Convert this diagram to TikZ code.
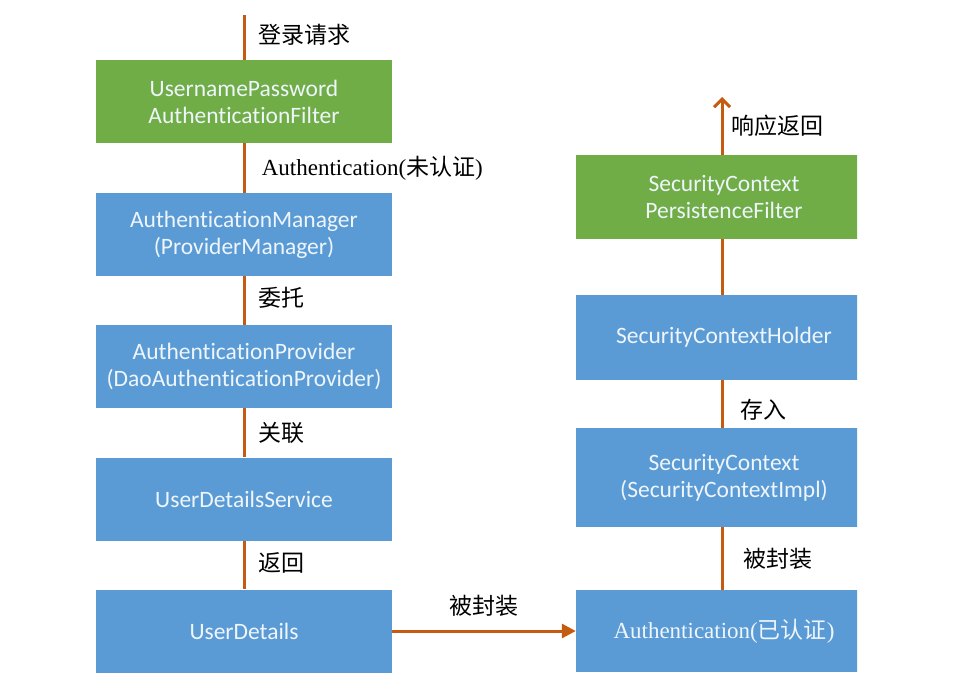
\documentclass[tikz,border=0pt]{standalone}
\usepackage{fontspec}
\setmainfont{Liberation Serif}
\newfontfamily\cjkfont{Noto Sans CJK SC}
\newfontfamily\boxfont{Carlito}[Ligatures=NoCommon]
\usetikzlibrary{arrows.meta,positioning}
\definecolor{FlowGreen}{HTML}{70AD47}
\definecolor{FlowBlue}{HTML}{5B9BD5}
\definecolor{FlowLine}{HTML}{C55A11}
\definecolor{BoxText}{HTML}{EEF5FB}

\begin{document}
\begin{tikzpicture}[
    x=1pt, y=-1pt,
    stage/.style={
      fill=#1,
      minimum width=296pt,
      minimum height=83pt,
      inner sep=0pt,
      align=center,
      text=BoxText,
      font=\boxfont\fontsize{23.5}{27}\selectfont
    },
    link/.style={draw=FlowLine, line width=3pt},
    note/.style={anchor=west, font=\cjkfont\fontsize{23}{26}\selectfont}
  ]
  \useasboundingbox (0,0) rectangle (965,673);

  % Left column
  \node[stage=FlowGreen] (filter)   at (244,101.5) {UsernamePassword\\AuthenticationFilter};
  \node[stage=FlowBlue]  (manager)  at (244,234.5) {AuthenticationManager\\(ProviderManager)};
  \node[stage=FlowBlue]  (provider) at (244,366.5) {AuthenticationProvider\\(DaoAuthenticationProvider)};
  \node[stage=FlowBlue]  (service)  at (244,499)   {UserDetailsService};
  \node[stage=FlowBlue]  (details)  at (244,631)   {UserDetails};

  % Right column (cut off at the right edge)
  \begin{scope}
    \clip (0,0) rectangle (857,673);
    \node[stage=FlowGreen, minimum height=84pt] (persist) at (724,197)   {SecurityContext\\PersistenceFilter};
    \node[stage=FlowBlue, minimum height=85pt]  (holder)  at (724,337.5) {SecurityContextHolder};
    \node[stage=FlowBlue, minimum height=99pt]  (context) at (724,477.5) {SecurityContext\\(SecurityContextImpl)};
    \node[stage=FlowBlue, minimum height=82pt,
          font=\rmfamily\fontsize{23}{26}\selectfont] (authdone) at (724,631)
      {Authentication({\cjkfont 已认证})};
  \end{scope}

  \coordinate (request) at (244,15);
  \coordinate (response) at (722,97);

  % Connectors
  \draw[link] (request) -- node[note, xshift=10pt, yshift=3pt] {登录请求} (filter);
  \draw[link] (filter) -- node[note, xshift=13pt, font=\rmfamily\fontsize{23}{26}\selectfont]
    {Authentication({\cjkfont 未认证})} (manager);
  \draw[link] (manager) -- node[note, xshift=10pt, yshift=3pt] {委托} (provider);
  \draw[link] (provider) -- node[note, xshift=10pt] {关联} (service);
  \draw[link] (service) -- node[note, xshift=10pt, yshift=2pt] {返回} (details);
  \draw[link, -{Triangle[length=14pt,width=14pt]}] (details) --
    node[above=10pt, font=\cjkfont\fontsize{23}{26}\selectfont] {被封装} (authdone);
  \draw[link] (authdone.north -| 722,0) -- node[note, xshift=17pt] {被封装} (context.south -| 722,0);
  \draw[link] (context.north -| 722,0) -- node[note, xshift=14pt, yshift=-6pt] {存入} (holder.south -| 722,0);
  \draw[link] (holder.north -| 722,0) -- (persist.south -| 722,0);
  \draw[link, -{Straight Barb[length=8pt,width=16pt,line width=3pt]}] (persist.north -| 722,0) --
    node[note, xshift=5pt] {响应返回} (response);

\end{tikzpicture}
\end{document}
